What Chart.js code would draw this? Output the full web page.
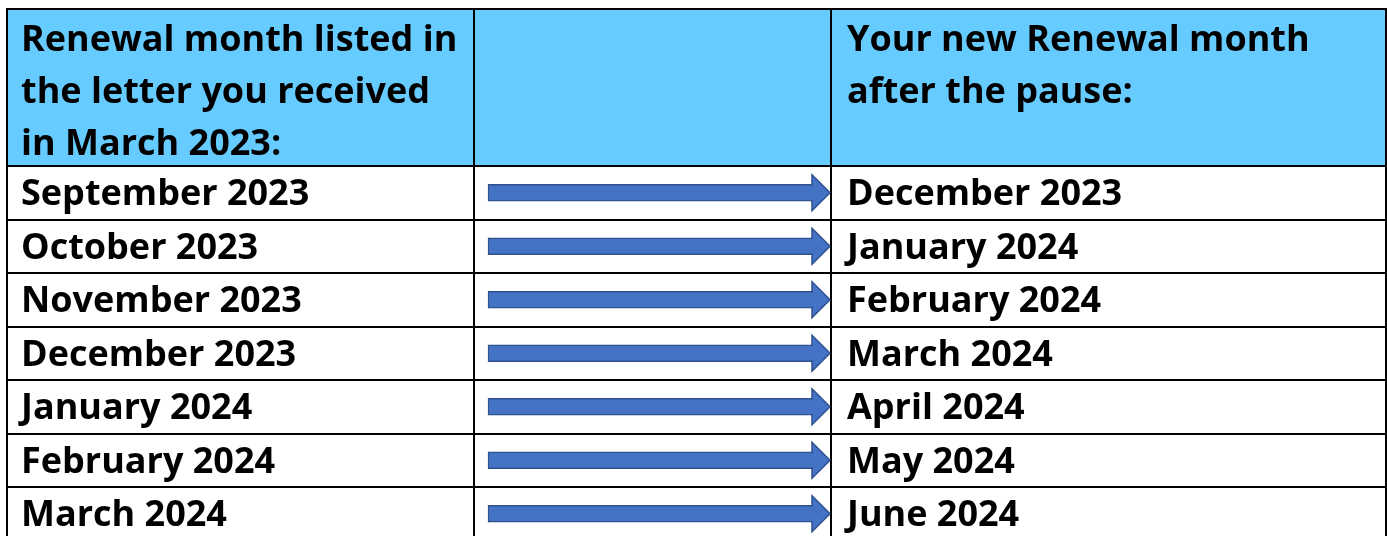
<!DOCTYPE html>
<html>
<head>
<meta charset="utf-8">
<script src="https://cdn.jsdelivr.net/npm/chart.js@4/dist/chart.umd.min.js"></script>
<style>
  html, body { margin: 0; padding: 0; background: #ffffff; }
  #wrap { width: 1387px; height: 536px; position: relative; }
</style>
</head>
<body>
<div id="wrap"><canvas id="RenewalChart"></canvas></div>
<script>
// table content
const headerLeft = ['Renewal month listed in', 'the letter you received', 'in March 2023:'];
const headerRight = ['Your new Renewal month', 'after the pause:'];
const oldMonths = ['September 2023', 'October 2023', 'November 2023', 'December 2023', 'January 2024', 'February 2024', 'March 2024'];
const newMonths = ['December 2023', 'January 2024', 'February 2024', 'March 2024', 'April 2024', 'May 2024', 'June 2024'];

// layout in table units (the scales map these to the canvas)
const colWidths = [467, 357, 555];
const headerHeight = 157;
const rowHeight = 53.5;
const arrowFrom = 481;   // in x units, inside the middle column
const arrowTo = 805;
const tableWidth = colWidths.reduce((a, b) => a + b, 0);
const visibleHeight = 527;

const headerColor = '#66CCFF';
const arrowFill = '#4472C4';
const arrowLine = '#2F528F';
const textFont = 'bold 36px "Open Sans"';

function colLeft(i) {
    let s = 0;
    for (let k = 0; k < i; k++) s += colWidths[k];
    return s;
}
function rowTop(i) { return headerHeight + i * rowHeight; }
function rowMid(i) { return rowTop(i) + rowHeight / 2; }

// arrows are floating bars, one per row
const arrowData = oldMonths.map((m, i) => ({ x: [arrowFrom, arrowTo], y: rowMid(i) }));

// header fill and grid lines
const tableGrid = {
    id: 'tableGrid',
    beforeDatasetsDraw(chart) {
        const { ctx, scales: { x, y } } = chart;
        ctx.save();
        ctx.fillStyle = headerColor;
        ctx.fillRect(x.getPixelForValue(0), y.getPixelForValue(0),
            x.getPixelForValue(tableWidth) - x.getPixelForValue(0),
            y.getPixelForValue(headerHeight) - y.getPixelForValue(0));

        ctx.strokeStyle = '#000000';
        ctx.lineWidth = 2;
        ctx.beginPath();
        // horizontal lines
        const lines = [0, headerHeight];
        oldMonths.forEach((m, i) => lines.push(rowTop(i + 1)));
        lines.forEach(v => {
            const py = Math.round(y.getPixelForValue(v));
            ctx.moveTo(x.getPixelForValue(0) - 1, py);
            ctx.lineTo(x.getPixelForValue(tableWidth) + 1, py);
        });
        // vertical lines
        for (let c = 0; c <= colWidths.length; c++) {
            const px = Math.round(x.getPixelForValue(colLeft(c)));
            ctx.moveTo(px, y.getPixelForValue(0));
            ctx.lineTo(px, y.getPixelForValue(rowTop(oldMonths.length)) + 2);
        }
        ctx.stroke();
        ctx.restore();
    }
};

// arrow heads on the end of each bar
const arrowHeads = {
    id: 'arrowHeads',
    afterDatasetsDraw(chart) {
        const { ctx } = chart;
        const meta = chart.getDatasetMeta(0);
        ctx.save();
        ctx.fillStyle = arrowFill;
        ctx.strokeStyle = arrowLine;
        ctx.lineWidth = 1.5;
        meta.data.forEach(bar => {
            const bx = bar.x;
            const cy = bar.y;
            const half = bar.height / 2;
            const headHalf = 18;
            const headLen = 18;
            ctx.beginPath();
            ctx.moveTo(bx - 1, cy - half);
            ctx.lineTo(bx, cy - half);
            ctx.lineTo(bx, cy - headHalf);
            ctx.lineTo(bx + headLen, cy);
            ctx.lineTo(bx, cy + headHalf);
            ctx.lineTo(bx, cy + half);
            ctx.lineTo(bx - 1, cy + half);
            ctx.closePath();
            ctx.fill();
            ctx.beginPath();
            ctx.moveTo(bx - 1, cy - half + 0.75);
            ctx.lineTo(bx, cy - half + 0.75);
            ctx.lineTo(bx, cy - headHalf);
            ctx.lineTo(bx + headLen, cy);
            ctx.lineTo(bx, cy + headHalf);
            ctx.lineTo(bx, cy + half - 0.75);
            ctx.lineTo(bx - 1, cy + half - 0.75);
            ctx.stroke();
        });
        ctx.restore();
    }
};

// cell texts
const cellText = {
    id: 'cellText',
    afterDraw(chart) {
        const { ctx, scales: { x, y } } = chart;
        ctx.save();
        ctx.fillStyle = '#000000';
        ctx.textAlign = 'left';
        ctx.textBaseline = 'alphabetic';
        ctx.font = textFont;

        headerLeft.forEach((t, i) => {
            ctx.fillText(t, x.getPixelForValue(colLeft(0)) + 14, y.getPixelForValue(42 + i * 52));
        });
        headerRight.forEach((t, i) => {
            ctx.fillText(t, x.getPixelForValue(colLeft(2)) + 16, y.getPixelForValue(42 + i * 52));
        });

        oldMonths.forEach((t, i) => {
            ctx.fillText(t, x.getPixelForValue(colLeft(0)) + 14, y.getPixelForValue(rowMid(i)) + 12.5);
        });
        newMonths.forEach((t, i) => {
            ctx.fillText(t, x.getPixelForValue(colLeft(2)) + 16, y.getPixelForValue(rowMid(i)) + 12.5);
        });
        ctx.restore();
    }
};

const ctx = document.getElementById('RenewalChart');

const renewalChart = new Chart(ctx, {
    type: 'bar',
    data: {
        datasets: [{
            label: 'pause',
            data: arrowData,
            backgroundColor: arrowFill,
            borderColor: arrowLine,
            borderWidth: 1.5,
            borderSkipped: 'right',
            barThickness: 17
        }]
    },
    options: {
        responsive: true,
        maintainAspectRatio: false,
        animation: false,
        indexAxis: 'y',
        layout: { padding: { left: 7, top: 9, right: 1, bottom: 0 } },
        scales: {
            x: { type: 'linear', min: 0, max: tableWidth, offset: false, display: false },
            y: { type: 'linear', min: 0, max: visibleHeight, reverse: true, offset: false, display: false }
        },
        plugins: {
            legend: { display: false },
            tooltip: { enabled: false }
        }
    },
    plugins: [tableGrid, arrowHeads, cellText]
});
</script>
</body>
</html>
